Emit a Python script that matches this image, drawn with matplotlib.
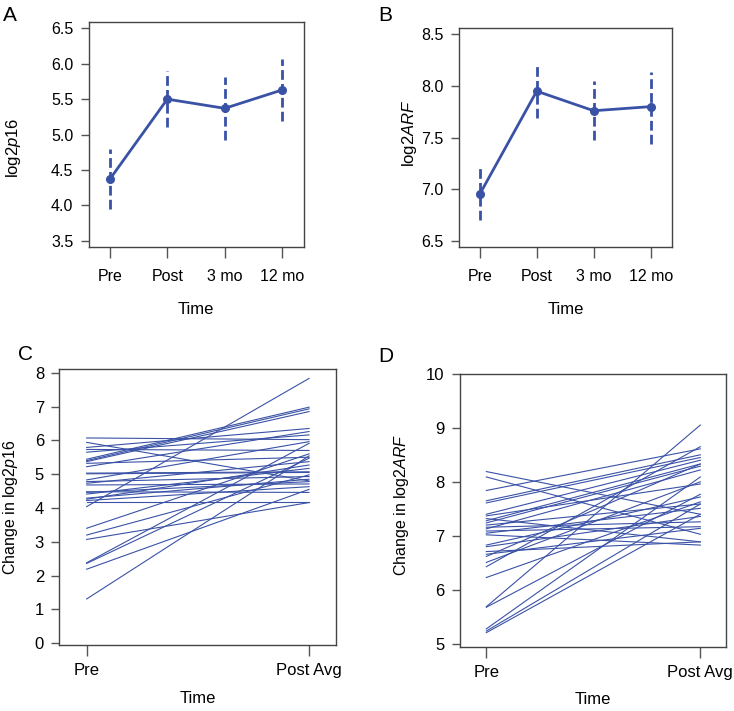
import matplotlib.pyplot as plt
import numpy as np

plt.rcParams['font.family'] = ['Liberation Sans', 'DejaVu Sans']
plt.rcParams['mathtext.fontset'] = 'custom'
plt.rcParams['mathtext.rm'] = 'Liberation Sans'
plt.rcParams['mathtext.it'] = 'Liberation Sans:italic'

# Panels A/B: means with error bars over time
times = ['Pre', 'Post', '3 mo', '12 mo']
p16_mean = [4.37, 5.50, 5.37, 5.63]
p16_lo = [3.95, 5.10, 4.92, 5.19]
p16_hi = [4.79, 5.90, 5.81, 6.07]
arf_mean = [6.95, 7.95, 7.76, 7.80]
arf_lo = [6.70, 7.69, 7.48, 7.44]
arf_hi = [7.20, 8.21, 8.05, 8.14]

# Panels C/D: individual Pre vs Post Avg
pair_labels = ['Pre', 'Post Avg']
p16_pre = [6.07, 5.94, 5.79, 5.73, 5.65, 5.44, 5.40, 5.37, 5.32, 5.22,
           5.03, 5.01, 4.83, 4.78, 4.73, 4.68, 4.48, 4.46, 4.41, 4.29,
           4.26, 4.22, 4.19, 4.04, 3.40, 3.20, 3.07, 2.38, 2.36, 2.19, 1.31]
p16_post = [6.02, 4.80, 6.35, 5.70, 6.16, 6.98, 6.93, 6.85, 5.50, 6.26,
            5.07, 5.05, 5.96, 4.93, 5.37, 4.71, 4.46, 4.78, 5.17, 4.85,
            5.27, 4.63, 4.19, 7.83, 5.60, 4.98, 4.16, 5.91, 5.47, 4.55, 5.54]
arf_pre = [8.19, 8.09, 7.84, 7.65, 7.61, 7.40, 7.37, 7.32, 7.28, 7.24,
           7.20, 7.16, 7.13, 7.09, 7.05, 7.02, 6.83, 6.80, 6.71, 6.66,
           6.62, 6.51, 6.43, 6.23, 5.69, 5.68, 5.28, 5.24, 5.21]
arf_post = [7.40, 7.03, 8.61, 8.50, 8.45, 8.40, 7.96, 6.89, 8.33, 8.29,
            7.59, 7.26, 8.22, 7.17, 7.51, 6.83, 7.72, 7.36, 6.89, 7.14,
            8.33, 8.00, 8.65, 7.63, 9.05, 7.77, 8.09, 7.59, 7.40]

blue = '#3A52A6'
spine_col = '#444444'

fig = plt.figure(figsize=(7.34, 7.11), dpi=100)


def style(ax, size):
    for s in ax.spines.values():
        s.set_color(spine_col)
        s.set_linewidth(1.0)
    ax.tick_params(direction='out', length=6, width=1, color='#555555',
                   labelsize=size, pad=5)


def mean_panel(rect, mean, lo, hi, ylab, yticks, ylim, lab_xy):
    ax = fig.add_axes(rect)
    x = np.arange(1, len(times) + 1)
    ax.vlines(x, lo, hi, colors=blue, linewidth=2, linestyles=(0, (3.5, 1.5)))
    ax.plot(x, mean, color=blue, lw=2, marker='o', ms=5.5)
    ax.set_xlim(0.63, 4.38)
    ax.set_ylim(*ylim)
    ax.set_xticks(x)
    ax.set_xticklabels(times)
    ax.set_yticks(yticks)
    ax.set_yticklabels([f'{v:.1f}' for v in yticks])
    ax.set_xlabel('Time', fontsize=12, labelpad=13)
    ax.set_ylabel(ylab, fontsize=12)
    ax.yaxis.set_label_coords(*lab_xy)
    style(ax, 11.5)
    ax.tick_params(axis='x', pad=7.5, length=8)
    return ax


def pair_panel(rect, pre, post, ylab, yticks, ylim, lab_xy):
    ax = fig.add_axes(rect)
    for a, b in zip(pre, post):
        ax.plot([1, 2], [a, b], color=blue, lw=0.8)
    ax.set_xlim(0.877, 2.12)
    ax.set_ylim(*ylim)
    ax.set_xticks([1, 2])
    ax.set_xticklabels(pair_labels)
    ax.set_yticks(yticks)
    ax.set_xlabel('Time', fontsize=12, labelpad=9)
    ax.set_ylabel(ylab, fontsize=11.5)
    ax.yaxis.set_label_coords(*lab_xy)
    style(ax, 12)
    ax.tick_params(axis='x', pad=5, length=8)
    return ax


mean_panel([0.1208, 0.6526, 0.2933, 0.3169], p16_mean, p16_lo, p16_hi,
           r'log2$\mathit{p16}$', np.arange(3.5, 6.6, 0.5), (3.41, 6.595),
           (-0.304, 0.44))
mean_panel([0.6249, 0.6522, 0.2910, 0.3080], arf_mean, arf_lo, arf_hi,
           r'log2$\mathit{ARF}$', np.arange(6.5, 8.6, 0.5), (6.435, 8.56),
           (-0.187, 0.52))
pair_panel([0.0808, 0.0924, 0.3766, 0.3882], p16_pre, p16_post,
           r'Change in log2$\mathit{p16}$', range(0, 9), (-0.06, 8.1),
           (-0.143, 0.50))
pair_panel([0.6267, 0.0904, 0.3624, 0.3840], arf_pre, arf_post,
           r'Change in log2$\mathit{ARF}$', range(5, 11), (4.95, 10.0),
           (-0.186, 0.52))

for lab, x, y in [('A', 0.004, 0.978), ('B', 0.516, 0.978),
                  ('C', 0.025, 0.502), ('D', 0.516, 0.498)]:
    fig.text(x, y, lab, fontsize=15, ha='left', va='center')

fig.savefig('out.png', dpi=100)
